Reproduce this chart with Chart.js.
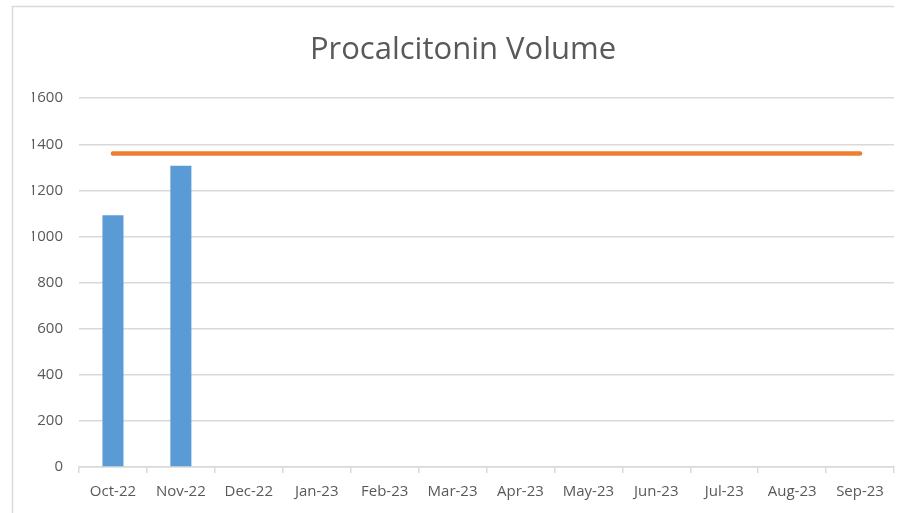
<!DOCTYPE html>
<html>
<head>
<meta charset="utf-8">
<script src="https://cdn.jsdelivr.net/npm/chart.js@4/dist/chart.umd.min.js"></script>
<style>
  html, body { margin: 0; padding: 0; background: #ffffff; }
  #wrap { width: 900px; height: 513px; position: relative; }
</style>
</head>
<body>
<div id="wrap"><canvas id="chart" width="900" height="513"></canvas></div>
<script>
// Monthly procalcitonin test volume with a flat target line
const months = ['Oct-22', 'Nov-22', 'Dec-22', 'Jan-23', 'Feb-23', 'Mar-23',
                'Apr-23', 'May-23', 'Jun-23', 'Jul-23', 'Aug-23', 'Sep-23'];
const volume = [1092, 1307, null, null, null, null, null, null, null, null, null, null];
const target = [1360, 1360, 1360, 1360, 1360, 1360, 1360, 1360, 1360, 1360, 1360, 1360];
const yTicks = [0, 200, 400, 600, 800, 1000, 1200, 1400, 1600];

const FONT = "'Open Sans', 'Noto Sans', sans-serif";

// Thin outline along the left and top of the chart frame
const frame = {
  id: 'frame',
  beforeDraw(chart) {
    const ctx = chart.ctx;
    ctx.save();
    ctx.strokeStyle = '#d9d9d9';
    ctx.lineWidth = 1.5;
    ctx.beginPath();
    ctx.moveTo(12.5, 513);
    ctx.lineTo(12.5, 6.5);
    ctx.lineTo(894, 6.5);
    ctx.stroke();
    ctx.restore();
  }
};

new Chart(document.getElementById('chart'), {
  type: 'bar',
  data: {
    labels: months,
    datasets: [
      {
        type: 'line',
        label: 'Target',
        data: target,
        borderColor: '#ED7D31',
        backgroundColor: '#ED7D31',
        borderWidth: 4.5,
        borderCapStyle: 'round',
        pointRadius: 0,
        fill: false,
        order: 0
      },
      {
        type: 'bar',
        label: 'Volume',
        data: volume,
        backgroundColor: '#5B9BD5',
        borderWidth: 0,
        categoryPercentage: 1.0,
        barPercentage: 0.31,
        order: 1
      }
    ]
  },
  options: {
    responsive: false,
    animation: false,
    layout: { padding: { left: 32, right: 6, top: 0, bottom: 0 } },
    plugins: {
      legend: { display: false },
      tooltip: { enabled: false },
      title: {
        display: true,
        text: 'Procalcitonin Volume',
        color: '#595959',
        font: { family: FONT, size: 31, weight: 'normal', lineHeight: 1.2 },
        padding: { top: 32, bottom: 29 }
      }
    },
    scales: {
      x: {
        grid: {
          display: true,
          drawOnChartArea: false,
          drawTicks: true,
          tickLength: 6,
          color: '#d9d9d9',
          lineWidth: 1.5,
          offset: true
        },
        border: { display: true, color: '#d9d9d9', width: 1.5 },
        ticks: {
          color: '#595959',
          font: { family: FONT, size: 15 },
          maxRotation: 0,
          autoSkip: false,
          padding: 10
        },
        afterFit(scale) { scale.height = 46; }
      },
      y: {
        min: 0,
        max: 1600,
        afterBuildTicks(scale) { scale.ticks = yTicks.map(v => ({ value: v })); },
        grid: { color: '#d9d9d9', lineWidth: 1.5, drawTicks: false },
        border: { display: false },
        ticks: {
          color: '#595959',
          font: { family: FONT, size: 15 },
          padding: 16,
          callback: (v) => String(v)
        },
        afterFit(scale) { scale.width = 47; }
      }
    }
  },
  plugins: [frame]
});
</script>
</body>
</html>
